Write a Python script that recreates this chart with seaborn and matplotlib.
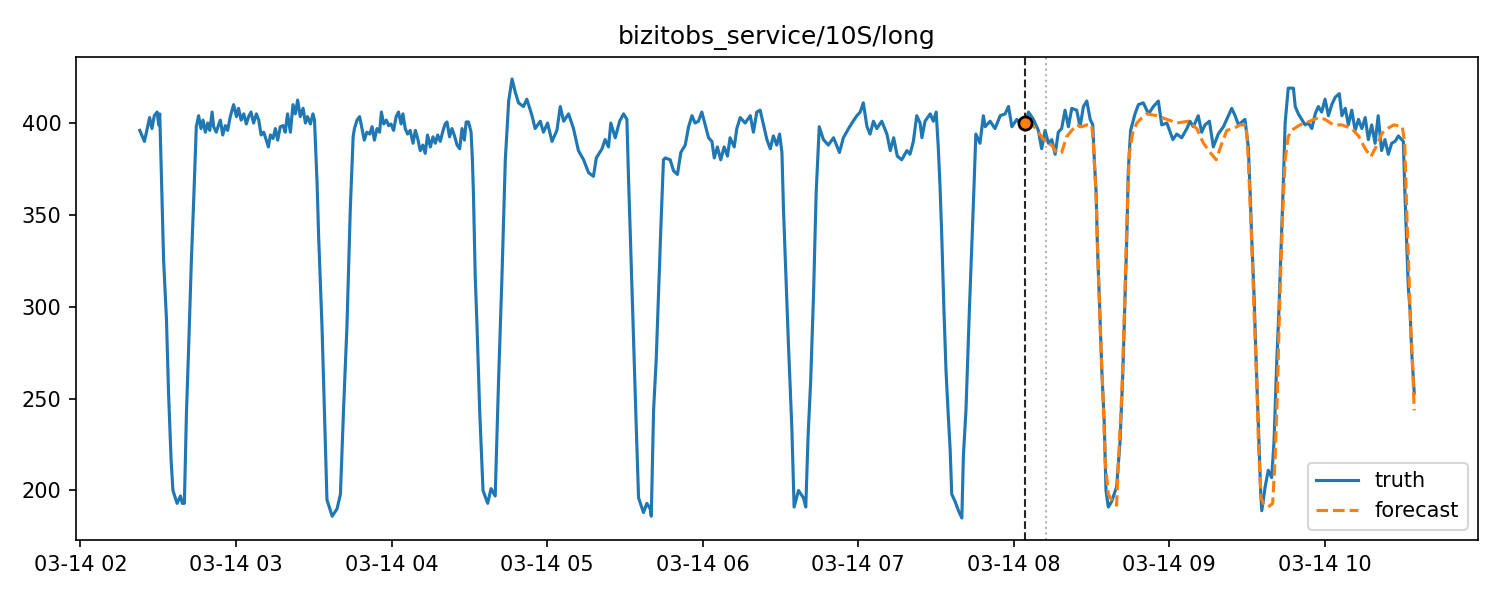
import matplotlib
matplotlib.use("Agg")
import matplotlib.pyplot as plt
import matplotlib.dates as mdates
import pandas as pd
import seaborn as sns

# ---------------- data ----------------
series_start = "2024-03-14 02:00:00"
title_text = "bizitobs_service/10S/long"
cutoff_minute = 364.5      # forecast start (black dashed line)
window_minute = 372.5      # grey dotted line
start_value = 400

truth_minutes = [
    22.9, 24.7, 26.7, 27.6, 28.5, 29.6, 30.2, 30.6, 31.2, 32.1,
    33.2, 34.0, 35.0, 35.7, 37.3, 38.6, 39.3, 40.1, 40.9, 41.8,
    42.8, 43.7, 44.7, 45.6, 46.5, 47.3, 48.2, 49.1, 49.9, 50.8,
    51.4, 52.4, 53.3, 54.0, 54.9, 55.9, 56.8, 57.8, 59.1, 60.2,
    61.0, 62.0, 63.0, 64.0, 64.9, 65.8, 66.8, 67.9, 68.8, 69.7,
    70.7, 71.7, 72.5, 73.3, 74.3, 75.2, 76.1, 77.1, 78.2, 79.0,
    79.9, 81.0, 82.0, 82.9, 83.8, 84.8, 85.9, 86.8, 87.6, 88.7,
    89.7, 90.3, 90.9, 91.3, 91.9, 93.2, 94.1, 95.1, 97.1, 99.0,
    100.3, 101.5, 102.8, 104.1, 105.2, 105.7, 106.7, 107.7, 108.6, 109.5,
    110.5, 111.6, 112.5, 113.4, 114.4, 115.4, 116.1, 117.0, 118.0, 118.9,
    119.8, 120.8, 121.8, 122.7, 123.7, 124.4, 125.3, 126.2, 127.2, 128.3,
    129.2, 130.1, 131.1, 132.1, 133.0, 133.9, 135.0, 136.0, 136.9, 137.8,
    138.8, 139.9, 140.7, 141.4, 142.4, 143.3, 144.2, 145.3, 146.3, 147.2,
    148.1, 148.8, 149.7, 150.7, 151.2, 151.6, 152.3, 153.0, 154.0, 155.3,
    157.1, 158.4, 160.0, 161.3, 162.6, 163.9, 165.2, 166.5, 167.7, 169.0,
    170.9, 172.2, 174.2, 175.4, 177.4, 178.6, 180.2, 181.9, 183.8, 185.1,
    186.4, 188.3, 190.2, 192.1, 194.1, 196.0, 197.9, 199.0, 201.2, 202.4,
    203.7, 204.6, 206.3, 208.0, 209.5, 210.8, 211.4, 212.1, 213.4, 214.4,
    215.3, 217.2, 218.5, 219.8, 220.2, 221.1, 222.1, 223.0, 223.9, 224.9,
    225.6, 227.5, 228.8, 230.3, 231.6, 233.3, 234.6, 235.9, 237.1, 238.4,
    239.7, 241.0, 242.3, 243.6, 244.5, 245.7, 247.0, 248.3, 249.6, 250.6,
    252.2, 253.2, 254.5, 256.4, 258.4, 259.6, 260.9, 262.2, 263.5, 264.8,
    266.1, 267.3, 268.6, 269.7, 270.6, 271.2, 271.9, 273.1, 274.4, 275.3,
    277.0, 278.9, 279.8, 280.7, 281.7, 282.8, 283.8, 285.0, 286.6, 288.5,
    290.5, 292.8, 294.3, 296.3, 297.6, 299.5, 300.8, 302.0, 303.4, 304.6,
    305.9, 307.2, 309.1, 311.1, 312.4, 313.7, 315.1, 316.8, 318.8, 320.0,
    321.3, 322.6, 323.9, 324.6, 325.8, 327.8, 329.0, 330.1, 330.9, 331.6,
    332.2, 333.1, 333.9, 334.8, 335.5, 336.1, 337.4, 338.7, 340.0, 340.6,
    341.6, 342.9, 344.5, 345.4, 347.0, 348.3, 349.0, 350.9, 352.8, 354.8,
    356.7, 358.0, 359.3, 361.2, 363.1, 364.5, 365.7, 367.6, 369.5, 370.8,
    372.1, 373.4, 374.7, 376.0, 377.2, 378.5, 379.8, 381.1, 382.4, 384.3,
    385.6, 386.9, 388.2, 389.5, 390.5, 391.1, 391.8, 392.3, 393.1, 394.0,
    394.9, 395.6, 396.5, 397.8, 399.7, 401.0, 402.1, 402.9, 403.6, 404.2,
    405.1, 406.8, 408.1, 410.0, 412.0, 413.9, 415.8, 417.1, 419.1, 421.4,
    422.9, 424.8, 426.8, 428.0, 429.3, 431.2, 432.5, 433.8, 435.5, 437.0,
    438.9, 440.9, 442.8, 444.1, 445.4, 446.7, 449.2, 450.5, 451.2, 451.8,
    452.7, 453.5, 454.4, 455.3, 455.7, 457.0, 458.2, 459.5, 460.4, 461.5,
    462.3, 463.4, 464.0, 464.7, 465.9, 467.9, 468.6, 469.8, 471.1, 472.4,
    473.7, 475.0, 476.3, 477.5, 478.8, 480.1, 481.4, 482.7, 484.0, 485.6,
    486.6, 487.9, 489.1, 490.4, 491.7, 493.0, 494.3, 495.6, 496.8, 498.1,
    499.4, 500.6, 501.9, 503.2, 504.5, 505.8, 507.1, 508.4, 509.7, 510.3,
    510.9, 511.6, 512.2, 512.9, 513.5, 514.5,
]
truth_values = [
    396, 390, 403, 397, 404, 406, 399, 405, 374, 325,
    293, 253, 216, 200, 193, 197, 193, 193, 242, 280,
    325, 358, 398, 404, 397, 401.6, 395, 400, 396, 406,
    398, 395, 399, 401.6, 393.5, 398.6, 396, 403.5, 410, 403.5,
    408, 401.6, 405, 399.5, 403.5, 406, 400, 405, 401.6, 393.5,
    395, 390.7, 387, 393.5, 391.6, 397, 390.7, 398, 398.6, 395,
    405, 395, 410, 405, 412.5, 403.5, 408, 400, 403.5, 399.5,
    405, 401.6, 380, 367, 338, 289, 244, 195, 186, 190,
    198, 244, 289, 353, 392.5, 397, 401.6, 403.5, 397, 390.7,
    395, 394, 398, 390.7, 397, 395, 406, 399.5, 401.6, 398.6,
    399.5, 396, 403.5, 406, 399.5, 405, 397, 394, 396, 389,
    396, 391.6, 385, 388, 383.5, 393.5, 387, 392.5, 389, 393.5,
    390, 396, 399.5, 400.6, 392.5, 397, 393.5, 388, 386, 397,
    390.7, 400.6, 400.6, 395, 380, 362, 316, 289, 244, 200,
    193, 201, 197, 260, 316, 380, 412, 424, 417, 411,
    409, 413, 404, 397, 401, 395, 400, 390, 396, 409,
    401, 405, 397, 385, 380, 373, 371, 381, 386, 391,
    387, 400, 392, 401, 405, 402, 371, 340, 280, 235,
    196, 188, 193, 190, 186, 244, 271, 307, 343, 380,
    381, 380, 374, 372, 384, 388, 398, 404, 400, 401,
    406, 399, 392, 390, 381, 387, 380, 387, 382, 392,
    387, 397, 403, 400, 404, 395, 406, 407, 399, 391,
    386, 393, 388, 394, 384, 353, 326, 280, 235, 191,
    200, 196, 191, 230, 260, 307, 362, 398, 391, 388,
    392, 384, 392, 397, 400, 404, 406, 411, 398, 394,
    401, 397, 401, 394, 385, 392, 382, 380, 385, 383,
    390, 404, 400, 392, 401, 405, 401, 406, 387, 365,
    341, 298, 265, 240, 222, 198, 194, 189, 185, 219,
    244, 298, 358, 394, 389, 404, 398, 401, 397, 404,
    405, 409, 398, 402, 399, 400, 406, 402, 396, 386,
    396, 389, 391, 383, 395, 397, 407, 398, 408, 407,
    398, 409, 412, 402, 399, 380, 362, 333, 302, 265,
    238, 200, 191, 194, 202, 226, 264, 303, 336, 374,
    396, 405, 410, 411, 405, 409, 412, 399, 400, 391,
    394, 392, 397, 401, 398, 404, 395, 399, 401, 387,
    394, 398, 404, 408, 404, 399, 402, 387, 362, 338,
    307, 271, 235, 198, 189, 202, 211, 207, 226, 271,
    298, 343, 367, 400, 419, 419, 409, 405, 402, 399,
    400, 397, 405, 409, 406, 413, 404, 410, 414, 416,
    404, 408, 399, 407, 396, 402, 397, 403, 391, 399,
    389, 404, 385, 391, 383, 389, 390, 393, 391, 390,
    362, 335, 311, 298, 276, 253,
]

forecast_minutes = [
    364.5, 367.5, 370.8, 372.7, 374.7, 376.6, 378.5, 380.4, 382.4, 384.3,
    386.2, 388.2, 390.1, 390.7, 391.8, 392.7, 393.6, 394.4, 395.3, 396.5,
    398.5, 399.7, 400.4, 401.7, 402.6, 403.6, 404.6, 405.9, 407.5, 408.8,
    411.3, 415.2, 419.1, 422.9, 427.4, 430.6, 433.2, 435.8, 438.1, 440.3,
    442.2, 444.8, 447.4, 449.7, 450.5, 451.8, 452.7, 453.7, 454.4, 455.4,
    456.3, 458.2, 459.9, 460.8, 461.7, 462.7, 463.8, 464.7, 465.9, 467.1,
    470.4, 474.3, 477.5, 480.1, 483.3, 486.6, 490.4, 493.0, 495.6, 497.8,
    500.1, 502.1, 504.2, 506.6, 509.9, 510.8, 511.6, 512.5, 513.1, 513.8,
    514.5,
]
forecast_values = [
    400, 398.6, 392.5, 389, 388, 383.6, 384, 392.5, 396, 399,
    398, 399, 399, 389, 360, 316, 280, 253, 216, 198,
    193, 192, 216, 253, 293, 343.5, 383.6, 394.5, 400, 402,
    405, 404, 402, 400, 401, 397, 389, 384, 380, 389,
    396, 397, 399, 399, 380, 335, 298, 262, 225.6, 196,
    193, 191, 193, 216, 253, 307, 352.6, 380, 392.5, 396,
    399, 401, 403, 402, 399, 399, 397, 393, 386, 381.7,
    388, 394.5, 397, 399, 398, 389.6, 352.6, 316, 289, 271,
    243.6,
]

# ---------------- build frames ----------------
t0 = pd.Timestamp(series_start)
truth_df = pd.DataFrame({
    "time": t0 + pd.to_timedelta(truth_minutes, unit="min"),
    "value": truth_values,
})
forecast_df = pd.DataFrame({
    "time": t0 + pd.to_timedelta(forecast_minutes, unit="min"),
    "value": forecast_values,
})
cutoff_time = t0 + pd.to_timedelta(cutoff_minute, unit="min")
window_time = t0 + pd.to_timedelta(window_minute, unit="min")

# ---------------- plot (plain matplotlib look) ----------------
plt.rcParams["font.family"] = ["DejaVu Sans"]
fig, ax = plt.subplots(figsize=(10, 4), dpi=150)

sns.lineplot(data=truth_df, x="time", y="value", ax=ax, color="#1f77b4",
             linewidth=1.5, label="truth", sort=False)
sns.lineplot(data=forecast_df, x="time", y="value", ax=ax, color="#ff7f0e",
             linewidth=1.5, linestyle="--", label="forecast", sort=False)

ax.axvline(cutoff_time, color="black", linestyle="--", linewidth=1, alpha=0.85)
ax.axvline(window_time, color="gray", linestyle=":", linewidth=1, alpha=0.6)
sns.scatterplot(x=[cutoff_time], y=[start_value], ax=ax, color="#ff7f0e",
                edgecolor="black", linewidth=1.3, s=40, zorder=5, legend=False)

ax.xaxis.set_major_locator(mdates.HourLocator())
ax.xaxis.set_major_formatter(mdates.DateFormatter("%m-%d %H"))
ax.set_xlabel("")
ax.set_ylabel("")
ax.set_title(title_text, fontsize=12)
ax.legend(loc="lower right", fontsize=10)

fig.subplots_adjust(left=0.0507, right=0.9853, top=0.905, bottom=0.1)
fig.savefig("out.png", dpi=150)
